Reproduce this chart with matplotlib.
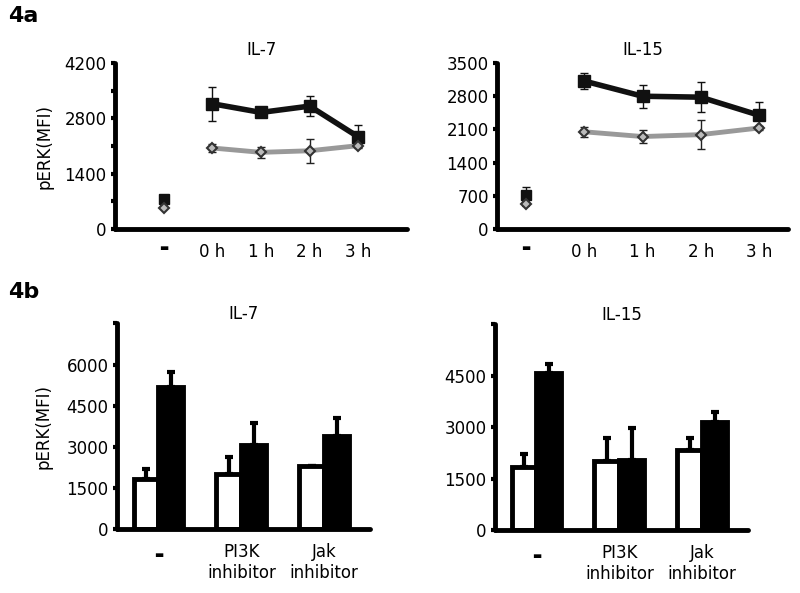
import matplotlib
matplotlib.use("Agg")
import matplotlib.pyplot as plt
import matplotlib.transforms as mtransforms
import numpy as np

plt.rcParams["font.family"] = ["DejaVu Sans"]

# --- 4a: time course ---
time_labels = ["▬", "0 h", "1 h", "2 h", "3 h"]

il7_black = [750, 3170, 2950, 3110, 2330]
il7_black_err = [60, 430, 40, 250, 290]
il7_gray = [540, 2050, 1940, 1980, 2110]
il7_gray_err = [40, 90, 140, 310, 40]

il15_black = [710, 3120, 2800, 2780, 2400]
il15_black_err = [170, 160, 240, 310, 280]
il15_gray = [530, 2050, 1950, 1990, 2130]
il15_gray_err = [40, 110, 140, 300, 40]

# --- 4b: inhibitors ---
group_labels = ["▬", "PI3K\ninhibitor", "Jak\ninhibitor"]

b_il7_white = [1820, 2000, 2320]
b_il7_white_err = [380, 640, 0]
b_il7_black = [5190, 3080, 3400]
b_il7_black_err = [550, 780, 650]

b_il15_white = [1850, 2000, 2340]
b_il15_white_err = [370, 680, 340]
b_il15_black = [4590, 2030, 3150]
b_il15_black_err = [260, 960, 300]

FS = 12


def style_axes(ax, dash_drop=0):
    for s in ["top", "right"]:
        ax.spines[s].set_visible(False)
    for s in ["left", "bottom"]:
        ax.spines[s].set_linewidth(3.5)
        ax.spines[s].set_capstyle("round")
    ax.tick_params(axis="y", length=3, width=3, labelsize=FS, pad=3)
    ax.tick_params(axis="x", length=0, labelsize=FS, pad=10)
    dash = ax.get_xticklabels()[0]
    dash.set_fontsize(7)
    if dash_drop:
        off = mtransforms.ScaledTranslation(0, -dash_drop / 72, ax.figure.dpi_scale_trans)
        dash.set_transform(dash.get_transform() + off)


def draw_time(ax, black, black_err, gray, gray_err, ymax, step, labeled, title, xlim):
    x = np.arange(len(time_labels))
    ax.errorbar(x[1:], gray[1:], yerr=gray_err[1:], color="#999999", lw=3.5,
                ecolor="#222222", elinewidth=1, capsize=3, zorder=2)
    ax.errorbar(x[1:], black[1:], yerr=black_err[1:], color="#111111", lw=4,
                ecolor="#111111", elinewidth=1, capsize=3, zorder=3,
                marker="s", markersize=8)
    ax.errorbar(x[1:], gray[1:], yerr=None, fmt="D", color="#333333",
                markerfacecolor="#bbbbbb", markeredgewidth=1.5, markersize=5, zorder=4)
    # untreated points (not connected)
    ax.errorbar([x[0]], [black[0]], yerr=[black_err[0]], fmt="s", color="#111111",
                markersize=7, elinewidth=1, capsize=3, zorder=3)
    ax.errorbar([x[0]], [gray[0]], yerr=[gray_err[0]], fmt="D", color="#333333",
                markerfacecolor="#bbbbbb", markeredgewidth=1.5, markersize=5,
                elinewidth=1, capsize=3, zorder=4)
    ax.set_xlim(*xlim)
    ax.set_ylim(0, ymax)
    ticks = np.arange(0, ymax + 1, step)
    ax.set_yticks(ticks)
    ax.set_yticklabels([str(int(t)) if labeled(t) else "" for t in ticks])
    ax.set_xticks(x)
    ax.set_xticklabels(time_labels)
    ax.set_title(title, fontsize=FS, pad=6)
    style_axes(ax)


def draw_bars(ax, white, white_err, black, black_err, ymax, step, top_label, title):
    x = np.arange(len(group_labels))
    w = 0.3
    ax.bar(x - w / 2, white, w, color="white", edgecolor="black", linewidth=3.5, zorder=2)
    ax.bar(x + w / 2, black, w, color="black", edgecolor="black", linewidth=3.5, zorder=2)
    ax.errorbar(x - w / 2, white, yerr=[np.zeros(3), white_err], fmt="none",
                ecolor="black", elinewidth=3, capsize=3, capthick=3, zorder=1)
    ax.errorbar(x + w / 2, black, yerr=[np.zeros(3), black_err], fmt="none",
                ecolor="black", elinewidth=3, capsize=3, capthick=3, zorder=1)
    ax.set_xlim(-0.5, 2.55)
    ax.set_ylim(0, ymax)
    ticks = np.arange(0, ymax + 1, step)
    ax.set_yticks(ticks)
    ax.set_yticklabels([str(int(t)) if t <= top_label else "" for t in ticks])
    ax.set_xticks(x)
    ax.set_xticklabels(group_labels)
    ax.set_title(title, fontsize=FS, pad=1)
    style_axes(ax, dash_drop=5)


fig = plt.figure(figsize=(8, 5.93), dpi=100)

ax1 = fig.add_axes([0.14375, 0.6138, 0.365, 0.2799])
draw_time(ax1, il7_black, il7_black_err, il7_gray, il7_gray_err, 4200, 700,
          lambda t: t % 1400 == 0, "IL-7", (-1, 5))
ax1.set_ylabel("pERK(MFI)", fontsize=FS, labelpad=8)

ax2 = fig.add_axes([0.62125, 0.6138, 0.36375, 0.2799])
draw_time(ax2, il15_black, il15_black_err, il15_gray, il15_gray_err, 3500, 700,
          lambda t: True, "IL-15", (-0.5, 4.5))

ax3 = fig.add_axes([0.14625, 0.1074, 0.316, 0.3474])
draw_bars(ax3, b_il7_white, b_il7_white_err, b_il7_black, b_il7_black_err,
          7500, 1500, 6000, "IL-7")
ax3.set_ylabel("pERK(MFI)", fontsize=FS, labelpad=10)

ax4 = fig.add_axes([0.61875, 0.1062, 0.316, 0.3469])
draw_bars(ax4, b_il15_white, b_il15_white_err, b_il15_black, b_il15_black_err,
          6000, 1500, 4500, "IL-15")

fig.text(0.01, 0.99, "4a", fontsize=16, fontweight="bold", va="top")
fig.text(0.01, 0.525, "4b", fontsize=16, fontweight="bold", va="top")

fig.savefig("out.png", dpi=100)
